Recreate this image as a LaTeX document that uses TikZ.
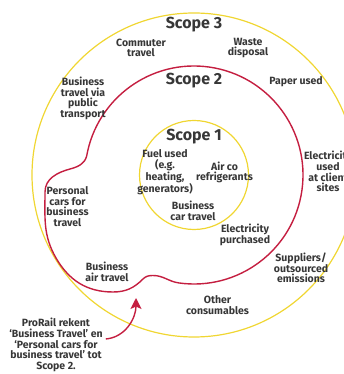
\documentclass[tikz,border=0pt]{standalone}
\usepackage{fontspec}
\setmainfont{Fira Sans}
\usetikzlibrary{arrows.meta,calc}
\definecolor{scopeyellow}{RGB}{240,214,50}
\definecolor{scopered}{RGB}{196,30,64}
\definecolor{labelgray}{RGB}{55,55,55}

\begin{document}
\begin{tikzpicture}[x=1pt,y=1pt,
    ring/.style={scopeyellow,line width=1.2pt},
    border/.style={scopered,line width=1.4pt},
    lbl/.style={align=center,text=labelgray,inner sep=0pt,
      font=\fontsize{10.5}{10.7}\selectfont\bfseries},
    scopetitle/.style={text=labelgray,inner sep=0pt,
      font=\fontsize{16}{18}\selectfont\bfseries}]
        \clip (0,0) rectangle (344,374);
        \coordinate (C) at (194, 199) {};
        \coordinate (J) at ($(C)+(262:109)$) {};
        \coordinate (tip) at (136, 76) {};
        % rings
        \draw[ring] (C) circle[radius=162];
        \draw[ring] (C) circle[radius=54.5];
        \draw[border] (J) arc[start angle=262, end angle=530, radius=109]
            to[out=255,in=15] (70,205) to[out=195,in=90] (45,182)
            to[out=270,in=120] (56,116) to[out=300,in=180] (113,82)
            to[out=0,in=225] (143,95) to[out=45,in=180] (153,98.5)
            to[out=0,in=172] (J);
        % titles
        \node[scopetitle] (scope3) at (194, 349) {Scope 3};
        \node[scopetitle] (scope2) at (194, 293) {Scope 2};
        \node[scopetitle] (scope1) at (194, 237) {Scope 1};
        % labels
        \node[lbl] (commuter) at (141, 326) {Commuter\\travel};
        \node[lbl] (waste) at (248, 326) {Waste\\disposal};
        \node[lbl] (paper) at (296, 292) {Paper used};
        \node[lbl] (bustransport) at (83, 275.5) {Business\\travel via\\public\\transport};
        \node[lbl] (fuel) at (165, 201.5) {Fuel used\\(e.g.\\heating,\\generators)};
        \node[lbl] (airco) at (224.5, 201.5) {Air co\\refrigerants};
        \node[lbl] (elecclient) at (328, 202.5) {Electricity\\used\\at client\\sites};
        \node[lbl] (personal) at (67.5, 167.5) {Personal\\cars for\\business\\travel};
        \node[lbl] (buscar) at (193, 163) {Business\\car travel};
        \node[lbl] (elecpurch) at (245, 139) {Electricity\\purchased};
        \node[lbl] (suppliers) at (301, 106) {Suppliers/\\outsourced\\emissions};
        \node[lbl] (busair) at (107, 102) {Business\\air travel};
        \node[lbl] (other) at (217.5, 69) {Other\\consumables};
        \node[lbl] (note) at (56, 29) {ProRail rekent\\‘Business Travel’ en\\‘Personal cars for\\business travel’ tot\\Scope 2.};
        % arrow
        \draw[border,-{Stealth[length=11pt,width=11pt,inset=2.5pt]}]
            ([xshift=3pt,yshift=6pt]note.east) to[out=5,in=270] (tip);
\end{tikzpicture}
\end{document}
